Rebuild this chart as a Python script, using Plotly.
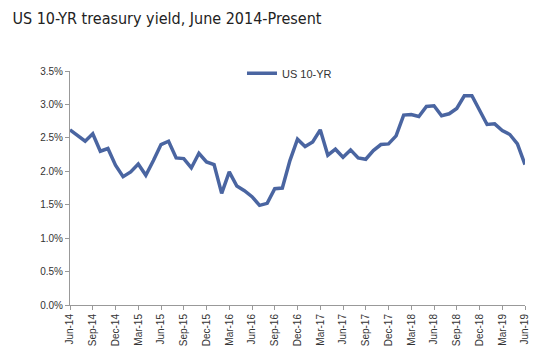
import plotly.graph_objects as go

months = ["Jun-14","Jul-14","Aug-14","Sep-14","Oct-14","Nov-14","Dec-14",
          "Jan-15","Feb-15","Mar-15","Apr-15","May-15","Jun-15","Jul-15","Aug-15","Sep-15","Oct-15","Nov-15","Dec-15",
          "Jan-16","Feb-16","Mar-16","Apr-16","May-16","Jun-16","Jul-16","Aug-16","Sep-16","Oct-16","Nov-16","Dec-16",
          "Jan-17","Feb-17","Mar-17","Apr-17","May-17","Jun-17","Jul-17","Aug-17","Sep-17","Oct-17","Nov-17","Dec-17",
          "Jan-18","Feb-18","Mar-18","Apr-18","May-18","Jun-18","Jul-18","Aug-18","Sep-18","Oct-18","Nov-18","Dec-18",
          "Jan-19","Feb-19","Mar-19","Apr-19","May-19","Jun-19"]

yield_10yr = [2.62, 2.53, 2.45, 2.56, 2.30, 2.34, 2.09,
              1.92, 1.99, 2.11, 1.94, 2.16, 2.40, 2.45, 2.20, 2.19, 2.05, 2.27, 2.14,
              2.10, 1.67, 1.99, 1.78, 1.71, 1.62, 1.49, 1.52, 1.74, 1.75, 2.16, 2.48,
              2.37, 2.44, 2.62, 2.24, 2.33, 2.21, 2.32, 2.20, 2.18, 2.31, 2.40, 2.41,
              2.53, 2.84, 2.85, 2.82, 2.97, 2.98, 2.83, 2.86, 2.94, 3.13, 3.13, 2.91,
              2.70, 2.71, 2.61, 2.55, 2.41, 2.10]

tick_labels = months[::3]
y_ticks = [0, 0.5, 1.0, 1.5, 2.0, 2.5, 3.0, 3.5]

idx = list(range(len(months)))

fig = go.Figure()
fig.add_trace(go.Scatter(
    x=idx, y=yield_10yr, mode="lines", name="US 10-YR",
    line=dict(color="#4a65a1", width=3.5),
))

fig.update_layout(
    width=550, height=361,
    margin=dict(l=62, r=33, t=63, b=64, autoexpand=False),
    paper_bgcolor="white", plot_bgcolor="white",
    title=dict(text="US 10-YR treasury yield, June 2014-Present",
               xref="container", x=0.008, xanchor="left",
               yref="container", y=0.972, yanchor="middle",
               font=dict(family="DejaVu Sans Condensed, Liberation Sans Narrow, Arial Narrow, sans-serif",
                         size=16, color="#222")),
    font=dict(family="Liberation Sans, Arial", size=10, color="#333"),
    showlegend=True,
    legend=dict(x=0.378, y=0.99, xanchor="left", yanchor="middle", orientation="h",
                font=dict(size=11, color="#333"), bgcolor="rgba(0,0,0,0)",
                itemwidth=30),
    xaxis=dict(range=[0, 60], tickmode="array", tickvals=idx[::3], ticktext=tick_labels,
               tickangle=-90, showgrid=False, zeroline=False, showline=True,
               linecolor="#999", linewidth=1, ticks="outside", tickcolor="#999",
               ticklen=4, tickfont=dict(size=10, color="#333")),
    yaxis=dict(range=[0, 3.5], tickmode="array", tickvals=y_ticks,
               ticktext=[f"{v:.1f}%" for v in y_ticks],
               showgrid=False, zeroline=False, showline=True,
               linecolor="#999", linewidth=1, ticks="outside", tickcolor="#999",
               ticklen=4, tickfont=dict(size=10, color="#333")),
)

fig.write_html("out.html")
